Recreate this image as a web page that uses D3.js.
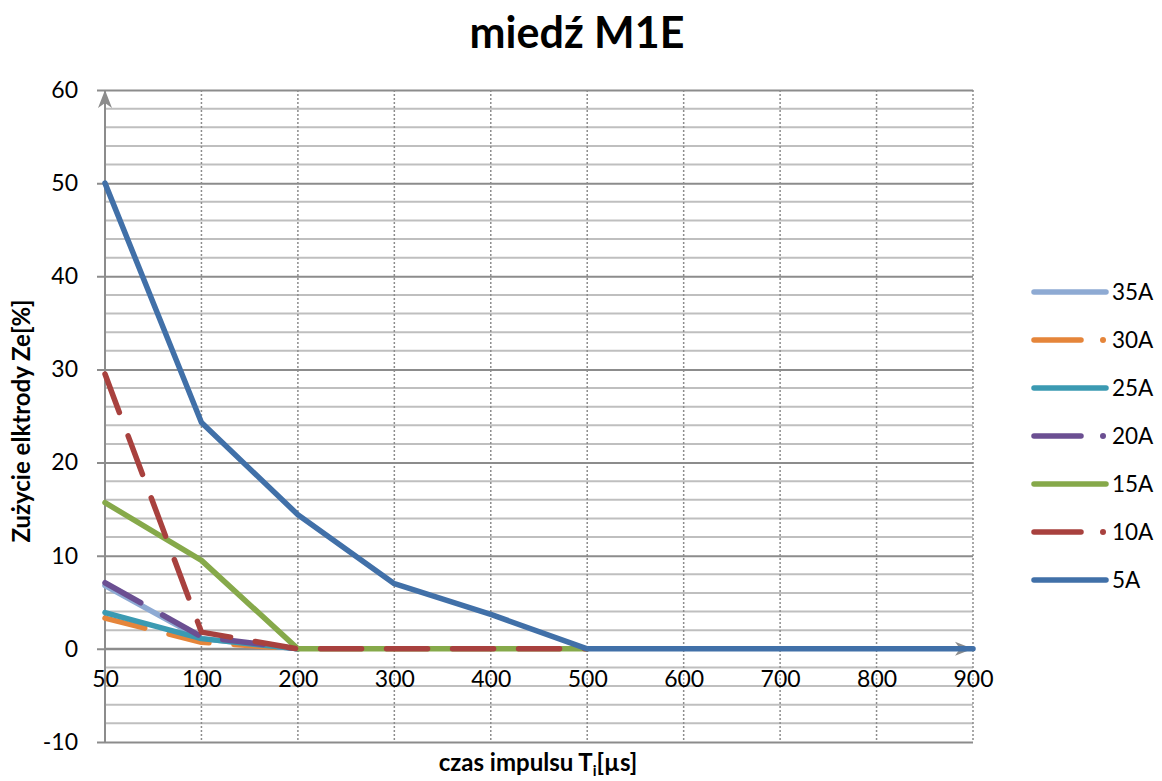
<!DOCTYPE html>
<html>
<head>
<meta charset="utf-8">
<script src="https://cdn.jsdelivr.net/npm/d3@7"></script>
<style>
  body { margin: 0; background: #fff; }
  text { fill: #000; }
  .lbl { font-family: Lato, "Open Sans", sans-serif; }
  .ttl { font-family: Lato, "Open Sans", sans-serif; font-weight: bold; }
</style>
</head>
<body>
<div id="chart"></div>
<script>
/* DATA */
const times = ["50", "100", "200", "300", "400", "500", "600", "700", "800", "900"];
const yTicks = [-10, 0, 10, 20, 30, 40, 50, 60];

const s35A = [6.8, 1.1, 0];
const s30A = [3.3, 0.7, 0];
const s25A = [3.9, 1.1, 0];
const s20A = [7.1, 1.3, 0];
const s15A = [15.7, 9.5, 0, 0, 0, 0];
const s10A = [29.5, 1.8, 0, 0, 0, 0];
const s5A  = [50, 24.3, 14.4, 7.0, 3.7, 0, 0, 0, 0, 0];

const seriesNames = ["35A", "30A", "25A", "20A", "15A", "10A", "5A"];
const seriesValues = [s35A, s30A, s25A, s20A, s15A, s10A, s5A];
const seriesColors = ["#8eaad3", "#e5853a", "#3b9ab2", "#6b4f92", "#86a94a", "#a8413e", "#4170a8"];
const seriesDashed = [false, true, false, true, false, true, false];

/* LAYOUT */
const width = 1162, height = 781;
const margin = { top: 90, bottom: 39, left: 105, right: 189 };

const svg = d3.select("#chart").append("svg")
  .attr("width", width)
  .attr("height", height);

const xScale = d3.scalePoint()
  .domain(times)
  .range([margin.left, width - margin.right]);

const yScale = d3.scaleLinear()
  .domain([-10, 60])
  .range([height - margin.bottom, margin.top]);

// minor horizontal grid
svg.append("g")
  .selectAll("line")
  .data(d3.range(-10, 61, 2).filter(v => v % 10 !== 0))
  .join("line")
  .attr("x1", margin.left).attr("x2", width - margin.right)
  .attr("y1", d => yScale(d)).attr("y2", d => yScale(d))
  .attr("stroke", "#bfbfbf").attr("stroke-width", 2);

// vertical dotted grid
svg.append("g")
  .selectAll("line")
  .data(times.slice(1))
  .join("line")
  .attr("x1", d => xScale(d)).attr("x2", d => xScale(d))
  .attr("y1", margin.top).attr("y2", height - margin.bottom)
  .attr("stroke", "#8c8c8c").attr("stroke-width", 1.5)
  .attr("stroke-dasharray", "2,2");

// major horizontal grid + y axis ticks
const yAxis = d3.axisLeft(yScale)
  .tickValues(yTicks)
  .tickSize(-(width - margin.left - margin.right))
  .tickSizeOuter(0)
  .tickPadding(27)
  .tickFormat(d => String(d));

const yAxisGroup = svg.append("g")
  .attr("transform", `translate(${margin.left},0)`)
  .call(yAxis);
yAxisGroup.select(".domain").remove();
yAxisGroup.selectAll(".tick line")
  .attr("x1", -8)
  .attr("stroke", "#8c8c8c").attr("stroke-width", 2);
yAxisGroup.selectAll(".tick text")
  .attr("class", "lbl")
  .attr("font-size", 23).attr("fill", "#000");

// x axis line at 0 with arrow
const defs = svg.append("defs");
defs.append("marker")
  .attr("id", "arrow")
  .attr("viewBox", "0 0 20 20")
  .attr("refX", 18).attr("refY", 10)
  .attr("markerWidth", 20).attr("markerHeight", 20)
  .attr("markerUnits", "userSpaceOnUse")
  .attr("orient", "auto")
  .append("path")
  .attr("d", "M0,3 L18,10 L0,17 L5,10 Z")
  .attr("fill", "#8c8c8c");

svg.append("line")
  .attr("x1", margin.left).attr("x2", width - margin.right)
  .attr("y1", yScale(0)).attr("y2", yScale(0))
  .attr("stroke", "#8c8c8c").attr("stroke-width", 2)
  .attr("marker-end", "url(#arrow)");

svg.append("line")
  .attr("x1", margin.left).attr("x2", margin.left)
  .attr("y1", height - margin.bottom).attr("y2", margin.top)
  .attr("stroke", "#8c8c8c").attr("stroke-width", 2)
  .attr("marker-end", "url(#arrow)");

// x tick labels
const xAxis = d3.axisBottom(xScale).tickSize(0).tickPadding(0);
const xAxisGroup = svg.append("g")
  .attr("transform", `translate(0,${yScale(0) + 22})`)
  .call(xAxis);
xAxisGroup.select(".domain").remove();
xAxisGroup.selectAll(".tick text")
  .attr("class", "lbl")
  .attr("font-size", 23).attr("fill", "#000")
  .attr("dy", "0.71em");

// series lines
const line = d3.line()
  .x((d, i) => xScale(times[i]))
  .y(d => yScale(d));

const series = seriesNames.map((name, i) => ({
  name, values: seriesValues[i], color: seriesColors[i], dashed: seriesDashed[i]
}));

svg.append("g")
  .selectAll("path")
  .data(series)
  .join("path")
  .attr("d", d => line(d.values))
  .attr("fill", "none")
  .attr("stroke", d => d.color)
  .attr("stroke-width", 5.5)
  .attr("stroke-linecap", "round")
  .attr("stroke-linejoin", "round")
  .attr("stroke-dasharray", d => d.dashed ? "41,25" : null);

// legend
const legend = svg.append("g")
  .selectAll("g")
  .data(series)
  .join("g")
  .attr("transform", (d, i) => `translate(1034,${292 + i * 48})`);

legend.append("line")
  .attr("x1", 0).attr("x2", d => d.dashed ? 47 : 72)
  .attr("stroke", d => d.color)
  .attr("stroke-width", 5.5)
  .attr("stroke-linecap", "round");

legend.filter(d => d.dashed).append("circle")
  .attr("cx", 69).attr("r", 3)
  .attr("fill", d => d.color);

legend.append("text")
  .attr("class", "lbl")
  .attr("x", 78).attr("y", 0)
  .attr("dy", "0.36em")
  .attr("font-size", 22.5)
  .text(d => d.name);

// titles
svg.append("text")
  .attr("class", "ttl")
  .attr("x", 577).attr("y", 48)
  .attr("text-anchor", "middle")
  .attr("font-size", 43)
  .text("miedź M1E");

svg.append("text")
  .attr("class", "ttl")
  .attr("transform", `translate(30,421) rotate(-90)`)
  .attr("text-anchor", "middle")
  .attr("font-size", 24)
  .text("Zużycie elktrody Ze[%]");

const xt = svg.append("text")
  .attr("class", "ttl")
  .attr("x", 538).attr("y", 771)
  .attr("text-anchor", "middle")
  .attr("font-size", 24);
xt.append("tspan").text("czas impulsu T");
xt.append("tspan").attr("font-size", 15).attr("dy", 5).text("i");
xt.append("tspan").attr("dy", -5).text("[µs]");
</script>
</body>
</html>
